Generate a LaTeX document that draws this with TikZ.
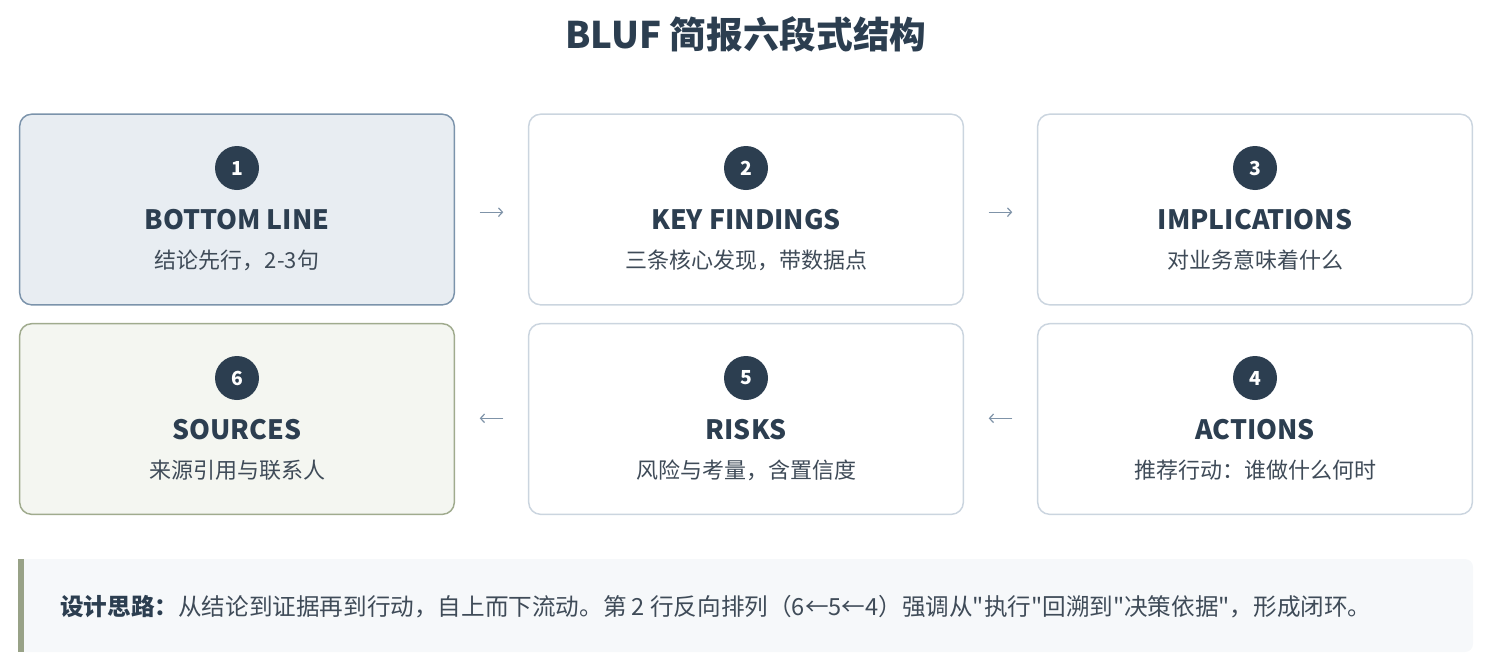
\documentclass[tikz,border=0pt]{standalone}
\usepackage{fontspec}
\setmainfont{Noto Sans CJK SC}[Ligatures=TeXOff]
\usepackage{tikz}
\usetikzlibrary{arrows.meta, positioning, calc}
\definecolor{darkslate}{HTML}{2C3E50}
\definecolor{subgray}{HTML}{3F4B58}
\definecolor{edgegray}{HTML}{CBD5DF}
\definecolor{bluegray}{HTML}{7B93AB}
\definecolor{bluefill}{HTML}{E8EDF2}
\definecolor{sagegreen}{HTML}{A0AB8E}
\definecolor{sagefill}{HTML}{F4F6F1}
\definecolor{notefill}{HTML}{F6F8FA}
\definecolor{arrowgray}{HTML}{7F93A8}

\begin{document}
\begin{tikzpicture}[x=0.75pt, y=-0.75pt,
    stage/.style={draw=edgegray, fill=white, line width=1.1pt, rounded corners=9pt,
        minimum width=326pt, minimum height=143pt, inner sep=0pt},
    numdot/.style={circle, fill=darkslate, text=white, minimum size=33pt, inner sep=0pt,
        font=\fontsize{14.5}{14.5}\selectfont\bfseries},
    stagetitle/.style={text=darkslate, font=\fontsize{20}{24}\selectfont\bfseries},
    stagesub/.style={text=subgray, font=\fontsize{16.5}{20}\selectfont},
    flowarrow/.style={arrowgray, line width=0.9pt, shorten <=18.5pt, shorten >=18.5pt,
        -{Straight Barb[length=3pt, width=6.5pt]}}]
    \useasboundingbox (0,0) rectangle (1486,664);

    % Heading
    \node[text=darkslate, font=\fontsize{27.5}{32}\selectfont\bfseries] (heading) at (746,34) {BLUF 简报六段式结构};

    % Row 1
    \node[stage, draw=bluegray, fill=bluefill] (b1) at (237,209.5) {};
    \node[stage] (b2) at (746,209.5) {};
    \node[stage] (b3) at (1255,209.5) {};

    % Row 2 (reversed)
    \node[stage] (b4) at (1255,419) {};
    \node[stage] (b5) at (746,419) {};
    \node[stage, draw=sagegreen, fill=sagefill] (b6) at (237,419) {};

    % Numbers
    \node[numdot] (n1) at (237,168) {1};
    \node[numdot] (n2) at (746,168) {2};
    \node[numdot] (n3) at (1255,168) {3};
    \node[numdot] (n4) at (1255,378) {4};
    \node[numdot] (n5) at (746,378) {5};
    \node[numdot] (n6) at (237,378) {6};

    % Titles
    \node[stagetitle] (t1) at (237,220) {BOTTOM LINE};
    \node[stagetitle] (t2) at (746,220) {KEY FINDINGS};
    \node[stagetitle] (t3) at (1255,220) {IMPLICATIONS};
    \node[stagetitle] (t4) at (1255,430) {ACTIONS};
    \node[stagetitle] (t5) at (746,430) {RISKS};
    \node[stagetitle] (t6) at (237,430) {SOURCES};

    % Descriptions
    \node[stagesub] (s1) at (237,260) {结论先行，2-3句};
    \node[stagesub] (s2) at (746,260) {三条核心发现，带数据点};
    \node[stagesub] (s3) at (1255,260) {对业务意味着什么};
    \node[stagesub] (s4) at (1255,470) {推荐行动：谁做什么何时};
    \node[stagesub] (s5) at (746,470) {风险与考量，含置信度};
    \node[stagesub] (s6) at (237,470) {来源引用与联系人};

    % Arrows
    \draw[flowarrow] ([yshift=-2pt]b1.east) -- ([yshift=-2pt]b2.west);
    \draw[flowarrow] ([yshift=-2pt]b2.east) -- ([yshift=-2pt]b3.west);
    \draw[flowarrow] ([yshift=0.5pt]b4.west) -- ([yshift=0.5pt]b5.east);
    \draw[flowarrow] ([yshift=0.5pt]b5.west) -- ([yshift=0.5pt]b6.east);

    % Design note
    \fill[notefill, rounded corners=6pt] (18,559) rectangle (1473,652);
    \fill[notefill] (18,559) rectangle (40,652);
    \fill[sagegreen!95!black] (18,559) rectangle (23.5,652);
    \node[anchor=west, text=subgray, font=\fontsize{17.7}{20}\selectfont, inner sep=0pt] (note) at (60,607)
        {\textcolor{darkslate}{\bfseries 设计思路：}从结论到证据再到行动，自上而下流动。第 2 行反向排列（6←5←4）强调从"执行"回溯到"决策依据"，形成闭环。};
\end{tikzpicture}
\end{document}
